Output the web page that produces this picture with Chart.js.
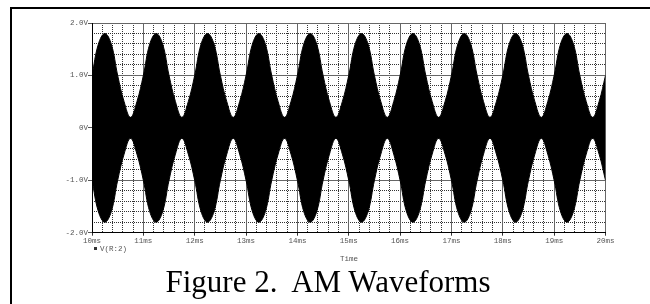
<!DOCTYPE html>
<html><head><meta charset="utf-8">
<script src="https://cdn.jsdelivr.net/npm/chart.js@4"></script>
<style>
html,body{margin:0;padding:0;background:#fff;width:650px;height:304px;overflow:hidden;}
#wrap{position:relative;width:650px;height:304px;overflow:hidden;}
canvas{position:absolute;left:0;top:0;}
#frame{position:absolute;left:10px;top:7px;width:700px;height:400px;border-left:2px solid #000;border-top:2px solid #000;}
.mono{position:absolute;font-family:"Liberation Mono",monospace;font-size:7.5px;line-height:9px;color:#555;white-space:pre;}
#title{position:absolute;left:0;width:656px;top:266px;text-align:center;font-family:"Liberation Serif",serif;font-size:31px;line-height:31px;white-space:pre;color:#000;}
</style></head>
<body><div id="wrap">
<div id="frame"></div>
<canvas id="c" width="650" height="304" style="width:650px;height:304px"></canvas>
<div class="mono" style="left:94px;top:245px;"><span style="display:inline-block;width:3px;height:3px;background:#333;margin-right:3px;vertical-align:1px"></span>V(R:2)</div>
<div class="mono" style="left:340px;top:255px;">Time</div>
<div id="title">Figure 2.  AM Waveforms</div>
</div>
<script>
// time axis samples (ms)
const times = [
  10,10.125,10.25,10.375,10.5,10.625,10.75,10.875,
  11,11.125,11.25,11.375,11.5,11.625,11.75,11.875,
  12,12.125,12.25,12.375,12.5,12.625,12.75,12.875,
  13,13.125,13.25,13.375,13.5,13.625,13.75,13.875,
  14,14.125,14.25,14.375,14.5,14.625,14.75,14.875,
  15,15.125,15.25,15.375,15.5,15.625,15.75,15.875,
  16,16.125,16.25,16.375,16.5,16.625,16.75,16.875,
  17,17.125,17.25,17.375,17.5,17.625,17.75,17.875,
  18,18.125,18.25,18.375,18.5,18.625,18.75,18.875,
  19,19.125,19.25,19.375,19.5,19.625,19.75,19.875,
  20
];
// upper envelope of V(R:2) (V)
const envelopeUpper = [
  1.0,1.6,1.8,1.6,1.0,0.5,0.2,0.5,
  1.0,1.6,1.8,1.6,1.0,0.5,0.2,0.5,
  1.0,1.6,1.8,1.6,1.0,0.5,0.2,0.5,
  1.0,1.6,1.8,1.6,1.0,0.5,0.2,0.5,
  1.0,1.6,1.8,1.6,1.0,0.5,0.2,0.5,
  1.0,1.6,1.8,1.6,1.0,0.5,0.2,0.5,
  1.0,1.6,1.8,1.6,1.0,0.5,0.2,0.5,
  1.0,1.6,1.8,1.6,1.0,0.5,0.2,0.5,
  1.0,1.6,1.8,1.6,1.0,0.5,0.2,0.5,
  1.0,1.6,1.8,1.6,1.0,0.5,0.2,0.5,
  1.0
];
// lower envelope of V(R:2) (V)
const envelopeLower = [
  -1.0,-1.6,-1.8,-1.6,-1.0,-0.5,-0.2,-0.5,
  -1.0,-1.6,-1.8,-1.6,-1.0,-0.5,-0.2,-0.5,
  -1.0,-1.6,-1.8,-1.6,-1.0,-0.5,-0.2,-0.5,
  -1.0,-1.6,-1.8,-1.6,-1.0,-0.5,-0.2,-0.5,
  -1.0,-1.6,-1.8,-1.6,-1.0,-0.5,-0.2,-0.5,
  -1.0,-1.6,-1.8,-1.6,-1.0,-0.5,-0.2,-0.5,
  -1.0,-1.6,-1.8,-1.6,-1.0,-0.5,-0.2,-0.5,
  -1.0,-1.6,-1.8,-1.6,-1.0,-0.5,-0.2,-0.5,
  -1.0,-1.6,-1.8,-1.6,-1.0,-0.5,-0.2,-0.5,
  -1.0,-1.6,-1.8,-1.6,-1.0,-0.5,-0.2,-0.5,
  -1.0
];
const xTickLabels = ['10ms','11ms','12ms','13ms','14ms','15ms','16ms','17ms','18ms','19ms','20ms'];
const yTickLabels = {'-2':'-2.0V','-1':'-1.0V','0':'0V','1':'1.0V','2':'2.0V'};

const tickFont = {family:'Liberation Mono', size:7.5};
const minorGridColor = '#333';
const majorGridColor = '#666';

new Chart(document.getElementById('c'), {
  type: 'line',
  data: {
    datasets: [
      {data: times.map((t,i)=>({x:t, y:envelopeUpper[i]})), fill:'+1', backgroundColor:'#000',
       borderColor:'#000', borderWidth:1, pointRadius:0, tension:0.4, xAxisID:'x', yAxisID:'y'},
      {data: times.map((t,i)=>({x:t, y:envelopeLower[i]})), fill:false,
       borderColor:'#000', borderWidth:1, pointRadius:0, tension:0.4, xAxisID:'x', yAxisID:'y'}
    ]
  },
  options: {
    responsive:false, animation:false, events:[],
    layout:{padding:{top:23, right:44.5, bottom:0, left:0}},
    plugins:{legend:{display:false}, tooltip:{enabled:false}, title:{display:false}},
    scales:{
      xm:{type:'linear', position:'bottom', min:10, max:20,
          ticks:{display:false, stepSize:0.2},
          grid:{color:minorGridColor, lineWidth:1, drawTicks:false},
          border:{display:false, dash:[1,1]},
          afterFit:s=>{s.height=0;}},
      ym:{type:'linear', position:'left', min:-2, max:2,
          ticks:{display:false, stepSize:0.2},
          grid:{color:minorGridColor, lineWidth:1, drawTicks:false},
          border:{display:false, dash:[1,1]},
          afterFit:s=>{s.width=0;}},
      x:{type:'linear', position:'bottom', min:10, max:20,
         ticks:{stepSize:1, autoSkip:false, maxRotation:0, padding:1, color:'#555', font:tickFont,
                callback:(v,i)=>xTickLabels[i]},
         grid:{color:majorGridColor, lineWidth:1, tickLength:3, tickColor:'#333'},
         border:{color:'#000', width:1},
         afterFit:s=>{s.height=71.3;}},
      y:{type:'linear', position:'left', min:-2, max:2,
         ticks:{stepSize:1, autoSkip:false, padding:0, color:'#555', font:tickFont,
                callback:v=>yTickLabels[String(v)]},
         grid:{color:majorGridColor, lineWidth:1, tickLength:4, tickColor:'#555'},
         border:{color:'#000', width:1},
         afterFit:s=>{s.width=92;}}
    }
  }
});
</script>
</body></html>
